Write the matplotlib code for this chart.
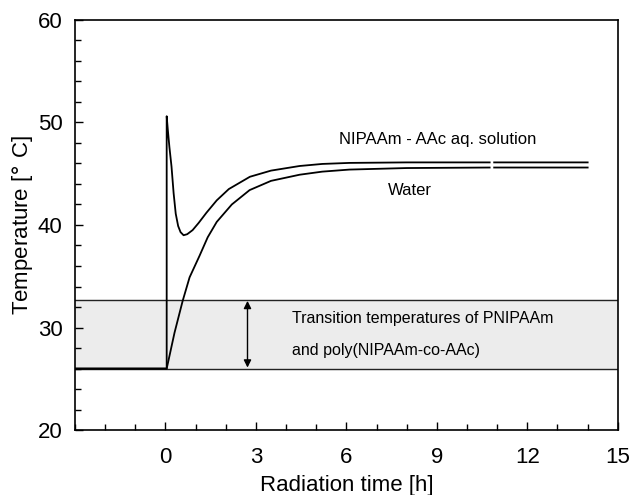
import numpy as np
import matplotlib
matplotlib.use("Agg")
import matplotlib.pyplot as plt
from matplotlib.ticker import MultipleLocator

plt.rcParams['font.family'] = ['Liberation Sans', 'DejaVu Sans']

# Data
nip_t = [-3, 0.04, 0.04, 0.08, 0.13, 0.2, 0.27, 0.34, 0.42, 0.5, 0.6, 0.72, 0.9, 1.1, 1.36,
         1.7, 2.1, 2.8, 3.5, 4.45, 5.2, 6.1, 8, 10.75, np.nan, 10.9, 14]
nip_T = [26, 26, 50.6, 49.2, 47.6, 45.7, 43.1, 41.1, 39.9, 39.3, 39.0, 39.1, 39.5, 40.2, 41.2,
         42.4, 43.5, 44.7, 45.3, 45.75, 45.95, 46.05, 46.1, 46.1, np.nan, 46.1, 46.1]

wat_t = [-3, 0.04, 0.1, 0.3, 0.57, 0.8, 1.13, 1.4, 1.7, 2.2, 2.79, 3.5, 4.45, 5.2, 6.1, 8,
         10.75, np.nan, 10.9, 14]
wat_T = [26, 26, 26.8, 29.5, 32.6, 34.9, 37.0, 38.8, 40.3, 42.0, 43.4, 44.3, 44.9, 45.2, 45.4,
         45.55, 45.6, np.nan, 45.6, 45.6]

band_low, band_high = 26.0, 32.7

fig = plt.figure(figsize=(6.33, 4.95), dpi=100)
ax = fig.add_axes([0.1185, 0.131, 0.8575, 0.829])

ax.axhspan(band_low, band_high, color='#ececec', zorder=0)
ax.axhline(band_low, color='#222222', lw=1.0, zorder=1)
ax.axhline(band_high, color='#222222', lw=1.0, zorder=1)

ax.plot(nip_t, nip_T, color='black', lw=1.3, zorder=3)
ax.plot(wat_t, wat_T, color='black', lw=1.3, zorder=3)

ax.annotate('', xy=(2.72, band_low + 0.1), xytext=(2.72, band_high - 0.1),
            arrowprops=dict(arrowstyle='<|-|>', color='black', lw=1.0,
                            mutation_scale=11, shrinkA=0, shrinkB=0))

ax.text(12.31, 48.3, 'NIPAAm - AAc aq. solution', fontsize=12, va='center', ha='right')
ax.text(7.37, 43.4, 'Water', fontsize=12, va='center', ha='left')
ax.text(4.2, 30.9, 'Transition temperatures of PNIPAAm', fontsize=11.5, va='center', ha='left')
ax.text(4.2, 27.8, 'and poly(NIPAAm-co-AAc)', fontsize=11.5, va='center', ha='left')

ax.set_xlim(-3, 15)
ax.set_ylim(20, 60)
ax.xaxis.set_minor_locator(MultipleLocator(1))
ax.set_xticks([0, 3, 6, 9, 12, 15])
ax.yaxis.set_major_locator(MultipleLocator(10))
ax.yaxis.set_minor_locator(MultipleLocator(2))
ax.tick_params(which='both', direction='in', top=False, right=False, labelsize=16)
ax.tick_params(axis='x', which='major', pad=12)
ax.tick_params(axis='y', which='major', pad=9)
ax.tick_params(which='major', length=6, width=1)
ax.tick_params(which='minor', length=4, width=1)
for s in ax.spines.values():
    s.set_linewidth(1.2)

ax.set_xlabel('Radiation time [h]', fontsize=16, labelpad=5)
ax.set_ylabel('Temperature [$\\degree$ C]', fontsize=16, labelpad=2)

fig.savefig('out.png', dpi=100)
